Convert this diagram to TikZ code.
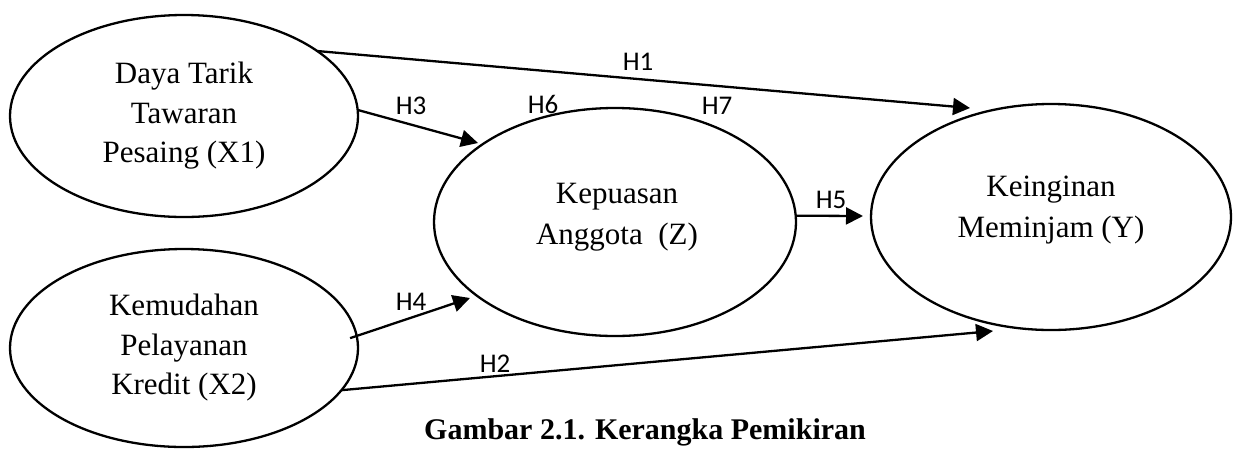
\documentclass[tikz,border=0pt]{standalone}
\usepackage{fontspec}
\setmainfont{Liberation Serif}
\newfontfamily\hfont{Carlito}
\usetikzlibrary{arrows.meta,shapes.geometric}
\begin{document}
\begin{tikzpicture}[x=1pt,y=-1pt,
  var/.style={draw, line width=2.3pt, ellipse, inner sep=0pt, outer sep=0pt,
    align=center, font=\fontsize{31}{39.5}\selectfont},
  vtext/.style={align=center, inner sep=0pt, font=\fontsize{31}{41}\selectfont},
  hyp/.style={line width=2.3pt, -{Triangle[length=17pt,width=17pt]}},
  hlab/.style={inner sep=0pt, anchor=base, font=\hfont\fontsize{27}{32}\selectfont},
]
\useasboundingbox (0,0) rectangle (1241,448);
% constructs
\node[var, minimum width=348pt, minimum height=202pt] (x1) at (184,116)
  {Daya Tarik\\Tawaran\\Pesaing (X1)};
\node[var, minimum width=348pt, minimum height=198pt] (x2) at (184,348)
  {Kemudahan\\Pelayanan\\Kredit (X2)};
\node[var, minimum width=362pt, minimum height=228pt] (z) at (615,222) {};
\node[vtext] (zt) at (617,217) {Kepuasan\\Anggota\ \ (Z)};
\node[var, minimum width=360pt, minimum height=226pt] (y) at (1051,217) {};
\node[vtext] (yt) at (1051,210) {Keinginan\\Meminjam (Y)};
% arrow tips
\coordinate (h1e) at (970,108);
\coordinate (h2e) at (993,331);
\coordinate (h3e) at (478,143);
\coordinate (h4e) at (470,298);
\coordinate (h5e) at (863,216);
% paths
\draw[hyp] (x1.26) -- (h1e);
\draw[hyp] (x2.-15.8) -- (h2e);
\draw[hyp] (x1.2) -- (h3e);
\draw[hyp, shorten <=-7pt] (x2.4) -- (h4e);
\draw[hyp] (z.2) -- (h5e);
% labels
\node[hlab] (l1) at (638,70) {H1};
\node[hlab] (l2) at (495,372) {H2};
\node[hlab] (l3) at (411,114) {H3};
\node[hlab] (l4) at (411,310) {H4};
\node[hlab] (l5) at (831,208) {H5};
\node[hlab] (l6) at (543,113) {H6};
\node[hlab] (l7) at (717,114) {H7};
% caption
\node[inner sep=0pt, anchor=base, font=\bfseries\fontsize{30}{34}\selectfont]
  (cap) at (645,439) {Gambar 2.1. Kerangka Pemikiran};
\end{tikzpicture}
\end{document}
